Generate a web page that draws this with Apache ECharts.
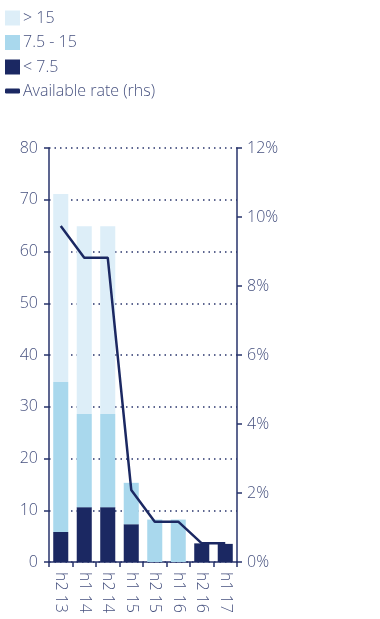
<!DOCTYPE html>
<html>
<head>
<meta charset="utf-8">
<script src="https://cdn.jsdelivr.net/npm/echarts@6/dist/echarts.min.js"></script>
<style>
  html, body { margin: 0; padding: 0; background: #fff; }
  #chart { width: 380px; height: 619px; }
</style>
</head>
<body>
<div id="chart"></div>
<script>
// Half-year periods
const categories = ['h2 13', 'h1 14', 'h2 14', 'h1 15', 'h2 15', 'h1 16', 'h2 16', 'h1 17'];
// Stacked volumes by band (lhs)
const below75 = [5.8, 10.6, 10.6, 7.3, 0, 0, 3.6, 3.5];
const from75to15 = [29.0, 18.0, 18.0, 8.0, 8.2, 8.2, 0, 0];
const above15 = [36.3, 36.3, 36.3, 0, 0, 0, 0, 0];
// Available rate, % (rhs)
const availableRate = [9.74, 8.82, 8.82, 2.09, 1.17, 1.17, 0.54, 0.54];
// Axis ranges
const leftTicks = { min: 0, max: 80, interval: 10 };
const rightTicks = { min: 0, max: 12, interval: 2 };

const navy = '#1b2862';
const axisColor = '#27336b';
const textColor = '#46517f';
const font = 'Open Sans';
const weight = 300;

const chart = echarts.init(document.getElementById('chart'));
chart.setOption({
  animation: false,
  textStyle: { fontFamily: font, fontWeight: weight },
  legend: [
    {
      orient: 'vertical',
      left: 5,
      top: 10,
      padding: 0,
      itemWidth: 15,
      itemHeight: 15,
      itemGap: 8.5,
      icon: 'rect',
      textStyle: { color: textColor, fontSize: 16, fontFamily: font, fontWeight: weight, padding: [0, 0, 0, -2] },
      data: ['> 15', '7.5 - 15', '< 7.5']
    },
    {
      orient: 'vertical',
      left: 5,
      top: 83,
      padding: 0,
      itemWidth: 15,
      itemHeight: 5,
      icon: 'roundRect',
      textStyle: { color: textColor, fontSize: 16, fontFamily: font, fontWeight: weight, padding: [0, 0, 0, -2] },
      data: ['Available rate (rhs)']
    }
  ],
  grid: { left: 49, right: 143, top: 148, bottom: 57, containLabel: false },
  xAxis: {
    type: 'category',
    data: categories,
    axisLine: { lineStyle: { color: axisColor, width: 1.5 } },
    axisTick: { show: true, length: 5, alignWithLabel: false, lineStyle: { color: axisColor, width: 1.5 } },
    axisLabel: { rotate: -90, color: textColor, fontSize: 16, fontFamily: font, fontWeight: weight, margin: 10, interval: 0 }
  },
  yAxis: [
    {
      type: 'value',
      min: leftTicks.min, max: leftTicks.max, interval: leftTicks.interval,
      position: 'left',
      axisLine: { show: true, lineStyle: { color: axisColor, width: 1.5 } },
      axisTick: { show: true, length: 5, lineStyle: { color: axisColor, width: 1.5 } },
      axisLabel: { color: textColor, fontSize: 16, fontFamily: font, fontWeight: weight, margin: 11 },
      splitLine: { show: true, lineStyle: { color: axisColor, type: [1.5, 4], width: 1.5 } }
    },
    {
      type: 'value',
      min: rightTicks.min, max: rightTicks.max, interval: rightTicks.interval,
      position: 'right',
      axisLine: { show: true, lineStyle: { color: axisColor, width: 1.5 } },
      axisTick: { show: true, length: 5, lineStyle: { color: axisColor, width: 1.5 } },
      axisLabel: { color: textColor, fontSize: 16, fontFamily: font, fontWeight: weight, margin: 10, formatter: '{value}%' },
      splitLine: { show: false }
    }
  ],
  series: [
    { name: '< 7.5', type: 'bar', stack: 'vol', data: below75, barWidth: '64%', itemStyle: { color: navy } },
    { name: '7.5 - 15', type: 'bar', stack: 'vol', data: from75to15, itemStyle: { color: '#a9d8ed' } },
    { name: '> 15', type: 'bar', stack: 'vol', data: above15, itemStyle: { color: '#ddeef8' } },
    {
      name: 'Available rate (rhs)', type: 'line', yAxisIndex: 1, data: availableRate,
      showSymbol: false, symbol: 'none',
      lineStyle: { color: navy, width: 2.5 }, itemStyle: { color: navy }
    }
  ]
});
</script>
</body>
</html>
